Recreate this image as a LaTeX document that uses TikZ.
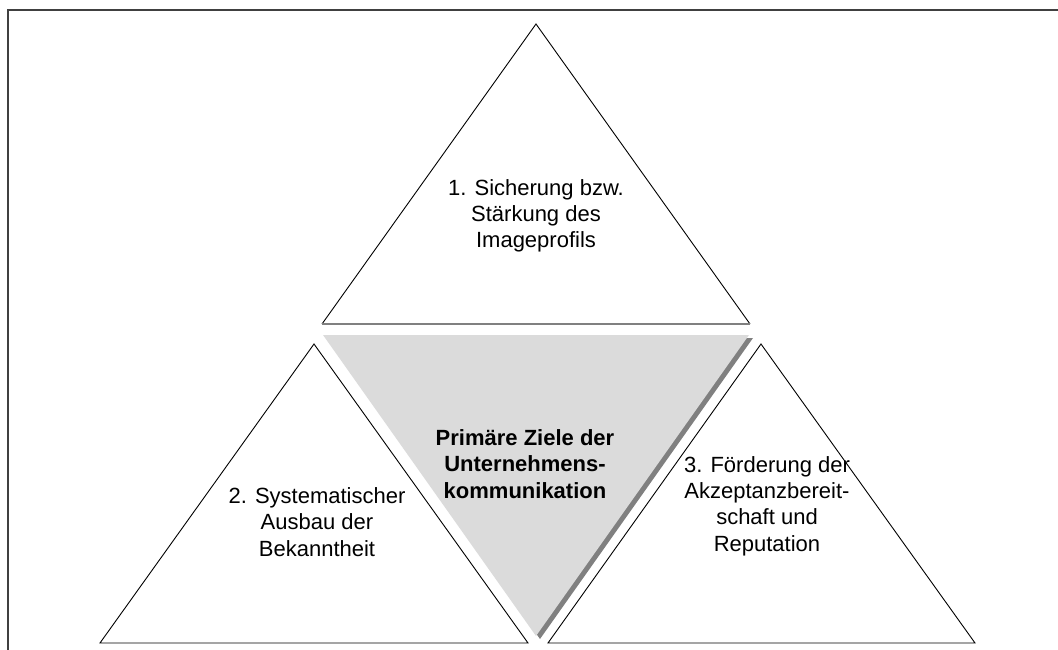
\documentclass[tikz,border=0pt]{standalone}
\usepackage{fontspec}
\setmainfont{Liberation Sans}
\begin{document}
\begin{tikzpicture}[x=1pt,y=-1pt,
  tri/.style={draw=black,line width=0.9pt,line join=miter},
  lbl/.style={align=center,font=\fontsize{22}{26.3}\selectfont,inner sep=0pt},
  lblb/.style={lbl,font=\fontsize{22}{26.3}\selectfont\bfseries}]
\useasboundingbox (0,0) rectangle (1058,650);
% frame
\draw[line width=1.5pt,color=black!75] (1058,10) -- (8,10) -- (8,650);
% top triangle
\draw[tri] (322,324) -- (536,24) -- (750,324);
\draw[line width=1.8pt,color=black!50] (322,324) -- (750,324);
% left and right triangles
\draw[tri] (100,643) -- (314,344) -- (528,643) -- cycle;
\draw[tri] (548,643) -- (761,344) -- (975,643) -- cycle;
% central inverted triangle with shadow
\fill[black!50] (327,338) -- (753,338) -- (540,639) -- cycle;
\fill[black!14] (323,335) -- (749,335) -- (536,636) -- cycle;
% labels
\node[lbl] (t1) at (536,216) {1. Sicherung bzw.\\Stärkung des\\Imageprofils};
\node[lblb] (t0) at (525,464) {Primäre Ziele der\\Unternehmens-\\kommunikation};
\node[lbl] (t2) at (317,522) {2. Systematischer\\Ausbau der\\Bekanntheit};
\node[lbl] (t3) at (767,506) {3. Förderung der\\Akzeptanzbereit-\\schaft und\\Reputation};
\end{tikzpicture}
\end{document}
